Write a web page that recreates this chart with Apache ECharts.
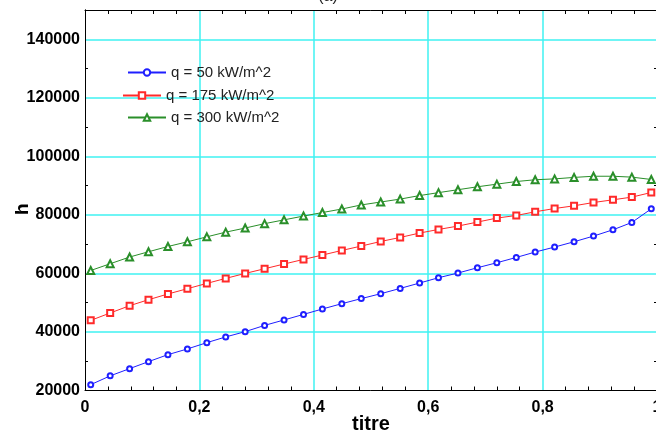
<!DOCTYPE html>
<html><head><meta charset="utf-8">
<script src="https://cdn.jsdelivr.net/npm/echarts@6/dist/echarts.min.js"></script>
<style>html,body{margin:0;padding:0;background:#fff}#c{width:656px;height:435px}</style>
</head><body><div id="c"></div>
<script>
// vapour quality (titre) sample points
const titre = [0.010, 0.044, 0.078, 0.111, 0.145, 0.179, 0.213, 0.246, 0.280, 0.314,
               0.348, 0.382, 0.415, 0.449, 0.483, 0.517, 0.551, 0.585, 0.618, 0.652,
               0.686, 0.720, 0.754, 0.787, 0.821, 0.855, 0.889, 0.923, 0.956, 0.990];
const h50  = [22000, 25000, 27470, 29860, 32250, 34200, 36350, 38300, 40100, 42250,
              44100, 46000, 47850, 49660, 51400, 53070, 54880, 56720, 58530, 60130,
              61940, 63650, 65460, 67300, 69010, 70820, 72760, 74910, 77410, 82080];
const h175 = [43960, 46480, 48970, 51020, 52970, 54780, 56590, 58300, 60000, 61600,
              63210, 64780, 66280, 67850, 69350, 70920, 72290, 73790, 75020, 76180,
              77540, 78910, 79800, 81060, 82180, 83100, 84230, 85150, 86070, 87650];
const h300 = [61000, 63300, 65600, 67400, 69200, 70800, 72500, 74100, 75500, 77000,
              78300, 79600, 80800, 82000, 83400, 84400, 85400, 86600, 87600, 88600,
              89600, 90500, 91400, 92000, 92300, 92800, 93200, 93200, 92900, 92100];
const seriesNames = ['q = 50 kW/m^2', 'q = 175 kW/m^2', 'q = 300 kW/m^2'];
const xName = 'titre';
const yName = 'h';
const titleText = '(a)';

const FONT = 'Liberation Sans, Arial, sans-serif';
const CYAN = '#3ff2f2';
const colors = ['#1f1fff', '#ff2a2a', '#2a8f2a'];
const symbols = ['emptyCircle', 'emptyRect', 'emptyTriangle'];
const symbolSizes = [5, 6, 7];
const dataSets = [h50, h175, h300];

const chart = echarts.init(document.getElementById('c'), null, {renderer: 'canvas'});

const gridMain = {left: 85, top: 10, width: 572, height: 380.5, outerBoundsMode: 'none', containLabel: false};
const gridTicks = {left: 85, top: 10, width: 572, height: 351.2, outerBoundsMode: 'none', containLabel: false};

const legendPos = [{left: 127, top: 65}, {left: 122, top: 88}, {left: 127, top: 110}];

const option = {
  animation: false,
  backgroundColor: '#fff',
  title: {
    text: titleText, left: 'center', top: -16,
    textStyle: {fontFamily: FONT, fontSize: 16, fontWeight: 'normal', color: '#222'}
  },
  grid: [gridMain, gridTicks],
  legend: seriesNames.map((n, i) => ({
    data: [n], orient: 'vertical', left: legendPos[i].left, top: legendPos[i].top,
    itemWidth: 38, itemHeight: 8, padding: 0,
    textStyle: {fontFamily: FONT, fontSize: 15, color: '#222'}
  })),
  xAxis: [
    {
      gridIndex: 0, type: 'value', position: 'bottom', min: 0, max: 1, interval: 0.2,
      name: xName, nameLocation: 'middle', nameGap: 24, nameMoveOverlap: false,
      nameTextStyle: {fontFamily: FONT, fontSize: 20, fontWeight: 'bold', color: '#000'},
      axisLine: {show: true, lineStyle: {color: '#000', width: 1}},
      axisTick: {show: false, inside: true},
      minorTick: {show: true, splitNumber: 5, length: 4, lineStyle: {color: '#000', width: 1}},
      axisLabel: {
        margin: 9, fontFamily: FONT, fontSize: 16, fontWeight: 'bold', color: '#000',
        formatter: v => String(+(+v).toFixed(1)).replace('.', ',')
      },
      splitLine: {show: true, showMinLine: false, showMaxLine: false, lineStyle: {color: CYAN, width: 1.5}}
    },
    {
      gridIndex: 0, type: 'value', position: 'top', min: 0, max: 1, interval: 0.2,
      axisLine: {show: true, lineStyle: {color: '#000', width: 1}},
      axisTick: {show: false, inside: true},
      minorTick: {show: true, splitNumber: 5, length: 4, lineStyle: {color: '#000', width: 1}},
      axisLabel: {show: false},
      splitLine: {show: false}
    },
    {gridIndex: 1, type: 'value', min: 0, max: 1, show: false}
  ],
  yAxis: [
    {
      gridIndex: 0, type: 'value', position: 'left', min: 20000, max: 150000, interval: 20000,
      name: yName, nameLocation: 'middle', nameGap: 53, nameRotate: 90, nameMoveOverlap: false,
      nameTextStyle: {fontFamily: FONT, fontSize: 19, fontWeight: 'bold', color: '#000', padding: [0, 18, 0, 0]},
      axisLine: {show: true, lineStyle: {color: '#000', width: 1}},
      axisTick: {show: false},
      axisLabel: {
        margin: 5, showMaxLabel: false, fontFamily: FONT, fontSize: 16, fontWeight: 'bold', color: '#000',
        formatter: v => String(v)
      },
      splitLine: {show: true, showMinLine: false, showMaxLine: false, lineStyle: {color: CYAN, width: 1.5}}
    },
    {
      gridIndex: 0, type: 'value', position: 'right', min: 20000, max: 150000, interval: 20000,
      axisLine: {show: true, lineStyle: {color: '#000', width: 1}},
      axisTick: {show: false}, axisLabel: {show: false}, splitLine: {show: false}
    },
    {
      gridIndex: 1, type: 'value', position: 'left', min: 30000, max: 150000, interval: 20000,
      axisLine: {show: false},
      axisTick: {show: true, inside: true, length: 3, lineStyle: {color: '#000', width: 1}},
      axisLabel: {show: false}, splitLine: {show: false}
    },
    {
      gridIndex: 1, type: 'value', position: 'right', min: 30000, max: 150000, interval: 20000,
      axisLine: {show: false},
      axisTick: {show: true, inside: true, length: 3, lineStyle: {color: '#000', width: 1}},
      axisLabel: {show: false}, splitLine: {show: false}
    }
  ],
  series: seriesNames.map((n, i) => ({
    name: n, type: 'line', xAxisIndex: 0, yAxisIndex: 0,
    data: titre.map((x, k) => [x, dataSets[i][k]]),
    color: colors[i],
    symbol: symbols[i], symbolSize: symbolSizes[i], showAllSymbol: true,
    lineStyle: {color: colors[i], width: 1},
    itemStyle: {color: colors[i], borderColor: colors[i], borderWidth: 1},
    smooth: false, z: 3
  }))
};
chart.setOption(option);
</script>
</body></html>
